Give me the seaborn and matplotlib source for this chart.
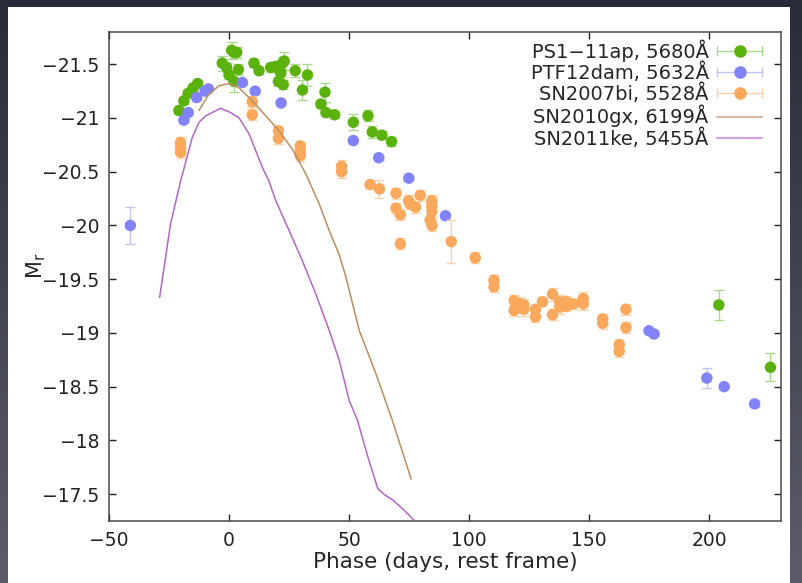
import numpy as np
import pandas as pd
import matplotlib
matplotlib.use("Agg")
import matplotlib.pyplot as plt
import seaborn as sns
from matplotlib.lines import Line2D
from matplotlib.collections import LineCollection
from matplotlib.container import ErrorbarContainer
from matplotlib.legend_handler import HandlerErrorbar
from matplotlib.patches import Rectangle
from matplotlib.colors import LinearSegmentedColormap
from matplotlib.ticker import FixedLocator, FuncFormatter

# ---------------- data ----------------
ps1_phase = [-20.9, -18.8, -17.0, -15.0, -13.1, -2.8, -1.0, 0.0, 1.1, 2.1, 3.2, 2.1, 3.9,
             10.4, 12.5, 17.4, 19.5, 20.9, 22.3, 23.0, 21.6, 20.6, 22.6, 27.6, 30.6, 32.7,
             38.3, 40.0, 40.4, 44.0, 51.8, 57.9, 59.7, 63.7, 67.7, 204.1, 225.6]
ps1_mag = [-21.07, -21.16, -21.23, -21.28, -21.32, -21.51, -21.47, -21.40, -21.63, -21.61,
           -21.61, -21.34, -21.45, -21.51, -21.44, -21.47, -21.48, -21.45, -21.51, -21.53,
           -21.42, -21.34, -21.31, -21.44, -21.26, -21.40, -21.13, -21.24, -21.05, -21.03,
           -20.96, -21.02, -20.87, -20.84, -20.78, -19.26, -18.68]
ps1_err = [0.03, 0.03, 0.03, 0.03, 0.03, 0.07, 0.04, 0.04, 0.08, 0.05, 0.05, 0.10, 0.05,
           0.04, 0.03, 0.04, 0.04, 0.04, 0.06, 0.08, 0.04, 0.04, 0.04, 0.06, 0.09, 0.10,
           0.04, 0.09, 0.03, 0.03, 0.075, 0.05, 0.06, 0.04, 0.04, 0.14, 0.13]

ptf_phase = [-41.1, -18.8, -17.0, -13.5, -10.0, -8.6, 5.6, 10.9, 21.7, 51.8, 62.4, 74.9,
             90.2, 175.0, 177.1, 199.1, 206.3, 219.0]
ptf_mag = [-20.00, -20.98, -21.05, -21.19, -21.25, -21.27, -21.33, -21.25, -21.14, -20.79,
           -20.63, -20.44, -20.09, -19.02, -18.99, -18.58, -18.50, -18.34]
ptf_err = [0.17, 0.02, 0.02, 0.02, 0.02, 0.02, 0.02, 0.02, 0.02, 0.02, 0.02, 0.02, 0.02,
           0.02, 0.02, 0.09, 0.02, 0.03]

sn07_phase = [-20.2, -20.2, -20.2, 9.7, 9.7, 20.6, 20.6, 29.7, 29.7, 29.7, 46.9, 46.9,
              58.8, 62.7, 69.6, 69.6, 71.4, 71.4, 74.8, 75.5, 77.7, 79.7, 84.5, 84.5,
              84.5, 83.8, 84.6, 92.6, 102.6, 110.4, 110.4, 118.8, 118.8, 121.1, 122.8,
              122.8, 127.7, 127.7, 130.6, 134.8, 134.8, 137.8, 137.8, 140.6, 140.6, 143.4,
              147.6, 147.6, 155.7, 155.7, 162.6, 162.6, 165.4, 165.4]
sn07_mag = [-20.77, -20.72, -20.68, -21.15, -21.03, -20.88, -20.81, -20.74, -20.69, -20.65,
            -20.55, -20.50, -20.38, -20.34, -20.30, -20.16, -20.10, -19.83, -20.23, -20.20,
            -20.17, -20.28, -20.23, -20.18, -20.13, -20.05, -20.00, -19.85, -19.70, -19.49,
            -19.43, -19.30, -19.21, -19.27, -19.26, -19.22, -19.22, -19.15, -19.29, -19.36,
            -19.17, -19.29, -19.24, -19.29, -19.25, -19.27, -19.32, -19.27, -19.13, -19.09,
            -18.89, -18.83, -19.22, -19.05]
sn07_err = [0.05, 0.04, 0.05, 0.05, 0.05, 0.05, 0.05, 0.04, 0.04, 0.05, 0.06, 0.06,
            0.03, 0.08, 0.05, 0.05, 0.05, 0.05, 0.05, 0.05, 0.05, 0.05, 0.05, 0.05,
            0.05, 0.05, 0.05, 0.20, 0.05, 0.05, 0.05, 0.05, 0.05, 0.06, 0.06,
            0.06, 0.05, 0.05, 0.04, 0.06, 0.05, 0.06, 0.06, 0.05, 0.05, 0.05,
            0.06, 0.06, 0.05, 0.05, 0.05, 0.05, 0.05, 0.05]

sn10_phase = [-12.5, -8.4, -4.2, 0.0, 4.2, 9.7, 15.3, 20.9, 26.4, 32.0, 37.6, 41.8, 45.9,
              48.7, 51.5, 54.3, 58.5, 62.7, 65.0, 68.0, 75.9]
sn10_mag = [-21.07, -21.22, -21.30, -21.32, -21.28, -21.16, -21.02, -20.88, -20.71, -20.48,
            -20.20, -19.95, -19.73, -19.52, -19.27, -19.02, -18.78, -18.53, -18.38, -18.19,
            -17.64]

sn11_phase = [-28.9, -24.4, -20.2, -15.3, -12.5, -9.7, -3.5, 0.7, 4.2, 8.4, 13.9, 16.7,
              19.5, 25.1, 30.6, 36.2, 41.8, 46.0, 50.1, 53.5, 57.8, 62.0, 64.5, 68.5,
              72.5, 77.0]
sn11_mag = [-19.33, -20.01, -20.41, -20.82, -20.96, -21.02, -21.09, -21.05, -21.00, -20.85,
            -20.54, -20.41, -20.23, -19.95, -19.67, -19.36, -19.02, -18.74, -18.37, -18.19,
            -17.85, -17.55, -17.50, -17.44, -17.36, -17.26]

labels = ["PS1\u221211ap, 5680\u00c5", "PTF12dam, 5632\u00c5", "SN2007bi, 5528\u00c5",
          "SN2010gx, 6199\u00c5", "SN2011ke, 5455\u00c5"]
x_ticks = [-50, 0, 50, 100, 150, 200]
y_ticks = [-21.5, -21, -20.5, -20, -19.5, -19, -18.5, -18, -17.5]

# ---------------- style ----------------
sns.set_theme(style="ticks")
plt.rcParams['font.family'] = ['DejaVu Sans']

green, green_e = "#5bb20c", "#a9d98a"
blue, blue_e = "#8282fa", "#c4c4fd"
orange, orange_e = "#f9a85c", "#fcd2ab"
brown = "#bb8e60"
purple = "#b565c9"

fig = plt.figure(figsize=(8.02, 5.83), dpi=100)

# slide-like background
bg = fig.add_axes([0, 0, 1, 1], zorder=-10)
grad = np.linspace(0, 1, 256).reshape(-1, 1)
cmap = LinearSegmentedColormap.from_list("bg", ["#292b3b", "#5c5c6c"])
bg.imshow(grad, aspect="auto", cmap=cmap, extent=[0, 1, 0, 1], origin="upper")
bg.add_patch(Rectangle((8 / 802, 0), (790 - 8) / 802, 576 / 583,
                       transform=bg.transAxes, facecolor="white", edgecolor="none"))
bg.set_xlim(0, 1); bg.set_ylim(0, 1)
bg.set_axis_off()

ax = fig.add_axes([109 / 802, 1 - 521 / 583, (781 - 109) / 802, (521 - 32) / 583])
ax.set_facecolor("none")

series = [
    (ps1_phase, ps1_mag, ps1_err, green, green_e),
    (ptf_phase, ptf_mag, ptf_err, blue, blue_e),
    (sn07_phase, sn07_mag, sn07_err, orange, orange_e),
]
z = 2
for ph, mg, er, c, ce in series:
    ax.errorbar(ph, mg, yerr=er, fmt="none", ecolor=ce, elinewidth=1.0,
                capsize=3.8, capthick=1.0, zorder=z)
    df = pd.DataFrame({"phase": ph, "mag": mg})
    sns.scatterplot(data=df, x="phase", y="mag", ax=ax, color=c, s=68,
                    edgecolor="none", linewidth=0, zorder=z + 0.5, legend=False)
    z += 1

for ph, mg, c in [(sn10_phase, sn10_mag, brown), (sn11_phase, sn11_mag, purple)]:
    df = pd.DataFrame({"phase": ph, "mag": mg})
    sns.lineplot(data=df, x="phase", y="mag", ax=ax, sort=False, estimator=None,
                 color=c, lw=1.1, zorder=6, legend=False)

ax.set_xlim(-50, 230)
ax.set_ylim(-17.25, -21.8)
fmt = FuncFormatter(lambda v, p: ("%g" % v).replace("-", "\u2212"))
ax.xaxis.set_major_locator(FixedLocator(x_ticks))
ax.yaxis.set_major_locator(FixedLocator(y_ticks))
ax.xaxis.set_major_formatter(fmt)
ax.yaxis.set_major_formatter(fmt)
ax.tick_params(direction="in", length=5, width=1, top=True, right=True,
               labelsize=13.5, colors="#222222")
ax.tick_params(axis="x", pad=7.5)
ax.tick_params(axis="y", pad=7)
for s in ax.spines.values():
    s.set_linewidth(1.1)
    s.set_color("#4a4a4a")

ax.set_xlabel("Phase (days, rest frame)", fontsize=15.5, labelpad=1)
ax.set_ylabel(r"M$_\mathregular{r}$", fontsize=15)
ax.yaxis.set_label_coords((48 - 109) / 672, (521 - 266) / 489)


def eb_handle(color, ecolor):
    pl = Line2D([], [], color=color, marker="o", markersize=8, linestyle="none")
    cap = Line2D([], [], color=ecolor, marker="|", markersize=7, linestyle="none",
                 markeredgewidth=1.0)
    lc = LineCollection([], colors=ecolor, linewidths=1.0)
    return ErrorbarContainer((pl, (cap,), (lc,)), has_xerr=True, has_yerr=False)


handles = [eb_handle(green, green_e), eb_handle(blue, blue_e), eb_handle(orange, orange_e),
           Line2D([], [], color=brown, lw=1.6, alpha=0.6),
           Line2D([], [], color=purple, lw=1.6, alpha=0.6)]
ax.legend(handles, labels, loc="upper right", frameon=False, markerfirst=False,
          fontsize=14, handlelength=2.3, handletextpad=0.45, labelspacing=0.04,
          borderaxespad=0, borderpad=0,
          bbox_to_anchor=((762 - 109) / 672, 1 - 7.0 / 489),
          handler_map={ErrorbarContainer: HandlerErrorbar(xerr_size=1.15)})

fig.savefig("out.png", dpi=100)
